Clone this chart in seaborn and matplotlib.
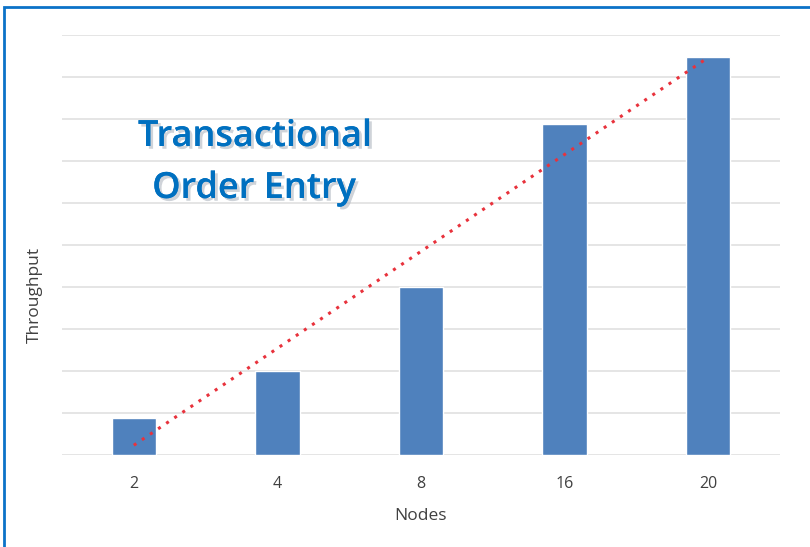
import numpy as np
import pandas as pd
import seaborn as sns
from matplotlib import pyplot as plt
from matplotlib import patheffects as pe
from matplotlib.patches import Rectangle

''' Data '''
nodes = ["2", "4", "8", "16", "20"]
throughput = [0.88, 2.0, 4.0, 7.88, 9.48]

df = pd.DataFrame({"Nodes": nodes, "Throughput": throughput})

sns.set_style("white")
plt.rcParams['font.family'] = ['Open Sans', 'DejaVu Sans']

fig = plt.figure(figsize = (8.1, 5.47), dpi = 100)
ax = fig.add_axes([62 / 810, 92 / 547, 718 / 810, 420 / 547])

sns.barplot(data = df, x = "Nodes", y = "Throughput", color = "#4F81BD", saturation = 1, width = 0.31, ax = ax, zorder = 3)

''' Linear trendline over the bars '''
xpos = np.arange(len(nodes))
slope, intercept = np.polyfit(xpos, throughput, 1)
ax.plot([xpos[0], xpos[-1]], [intercept, intercept + slope * xpos[-1]], color = "#E8323C", linestyle = (0, (1, 2.2)), linewidth = 2.2, zorder = 4)

ax.set_ylim(0, 10)
ax.set_xlim(-0.5, 4.5)
ax.set_yticks(np.arange(0, 11, 1))
ax.set_yticklabels([])
ax.yaxis.grid(True, color = "#E0E0E0", linewidth = 1.2, zorder = 0)
ax.tick_params(axis = "x", length = 0, labelsize = 11.5, labelcolor = "#404040", pad = 15)
ax.tick_params(axis = "y", length = 0)
for s in ax.spines.values():
       s.set_visible(False)

ax.set_xlabel("Nodes", fontsize = 12.5, color = "#404040", labelpad = 12)
ax.set_ylabel("Throughput", fontsize = 12.5, color = "#404040", va = "center")
ax.yaxis.set_label_coords(-0.038, 0.38)

''' Title with shadow '''
shadow = [pe.withSimplePatchShadow(offset = (2, -2), shadow_rgbFace = "#a8b0ba", alpha = 0.55), pe.Normal()]
fig.text(255 / 810, 1 - 137 / 547, "Transactional", fontsize = 26, color = "#0070C0", ha = "center", va = "center", fontweight = "semibold", path_effects = shadow)
fig.text(254 / 810, 1 - 189 / 547, "Order Entry", fontsize = 26, color = "#0070C0", ha = "center", va = "center", fontweight = "semibold", path_effects = shadow)

''' Blue frame (only top and left edges visible) '''
fig.patches.append(Rectangle((4 / 810, -0.1), 1.2, 1.1 - 7 / 547, transform = fig.transFigure, fill = False, edgecolor = "#0B72C8", linewidth = 2, figure = fig))

fig.savefig("out.png", dpi = 100)
